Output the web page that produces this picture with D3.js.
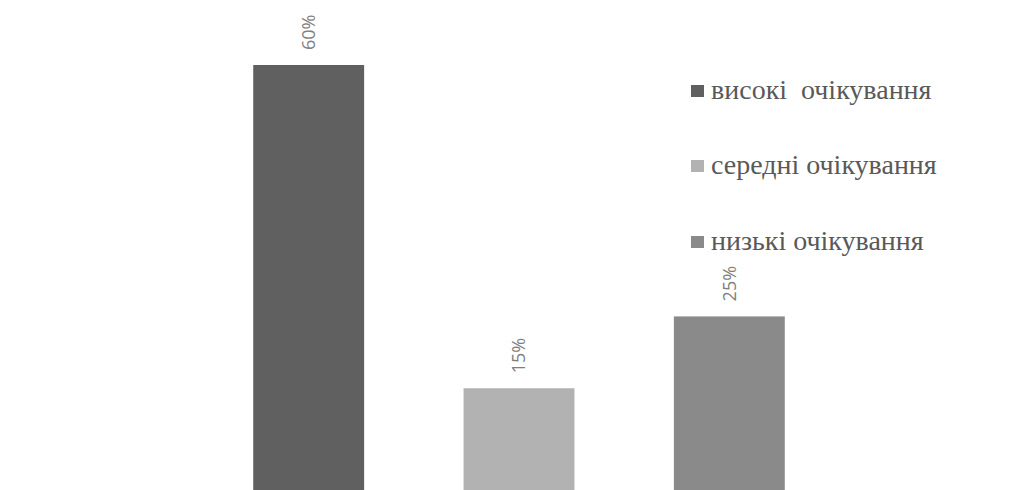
<!DOCTYPE html>
<html>
<head>
<meta charset="utf-8">
<script src="https://cdn.jsdelivr.net/npm/d3@7/dist/d3.min.js"></script>
<style>
  html, body { margin: 0; padding: 0; background: #fff; }
  svg { display: block; }
  .legend-label { font-family: "Liberation Serif", "DejaVu Serif", "Times New Roman", serif; font-size: 28px; white-space: pre; }
  .val { font-family: "Open Sans", sans-serif; font-size: 18px; }
</style>
</head>
<body>
<script>
// Expectation levels and their shares (percent)
const categories = ["високі  очікування", "середні очікування", "низькі очікування"];
const values = [60, 15, 25];
const colors = ["#606060", "#b2b2b2", "#8a8a8a"];

const W = 1014, H = 490;
const svg = d3.select("body").append("svg").attr("width", W).attr("height", H);

const x = d3.scaleBand()
  .domain(categories)
  .range([203.5, 834.5])
  .paddingInner(0.4727)
  .paddingOuter(0.2364);

const y = d3.scaleLinear().domain([0, 60]).range([496, 65]);

const color = d3.scaleOrdinal().domain(categories).range(colors);

const data = categories.map((c, i) => ({ cat: c, v: values[i] }));

// Bars
svg.selectAll("rect.bar")
  .data(data)
  .join("rect")
  .attr("class", "bar")
  .attr("x", d => x(d.cat))
  .attr("width", x.bandwidth())
  .attr("y", d => y(d.v))
  .attr("height", d => y(0) - y(d.v))
  .attr("fill", d => color(d.cat));

// Rotated value labels above the bars
svg.selectAll("text.val")
  .data(data)
  .join("text")
  .attr("class", "val")
  .attr("transform", d => `translate(${x(d.cat) + x.bandwidth() / 2},${y(d.v) - 15}) rotate(-90)`)
  .attr("dy", "0.36em")
  .attr("text-anchor", "start")
  .attr("fill", "#7f7f7f")
  .text(d => d.v + "%");

// Legend
const legend = svg.append("g").attr("transform", "translate(691,0)");
const rowY = [99, 174, 250];
const items = legend.selectAll("g.item")
  .data(categories)
  .join("g")
  .attr("class", "item")
  .attr("transform", (d, i) => `translate(0,${rowY[i]})`);

items.append("rect")
  .attr("x", 0)
  .attr("y", -14)
  .attr("width", 13)
  .attr("height", 12)
  .attr("fill", d => color(d));

items.append("text")
  .attr("class", "legend-label")
  .attr("x", 20)
  .attr("y", 0)
  .attr("fill", "#595959")
  .text(d => d);
</script>
</body>
</html>
